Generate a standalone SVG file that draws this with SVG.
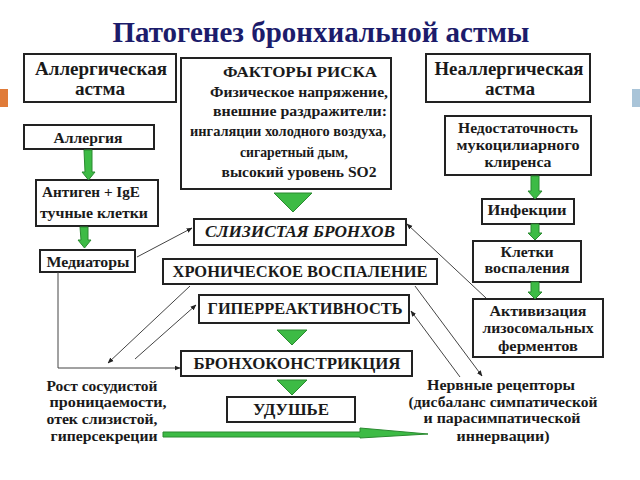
<svg xmlns="http://www.w3.org/2000/svg" width="640" height="480" viewBox="0 0 640 480">
<defs>
<style>
.box{fill:#fff;stroke:#222;stroke-width:2}
.t{font-weight:bold;font-size:15px;fill:#1a1a1a;text-anchor:middle}
.big{font-size:16px}
.hd{font-size:18px}
.it{font-style:italic}
.ln{stroke:#444;stroke-width:1;fill:none}
.g{fill:#3dbb45;stroke:#2a8a30;stroke-width:1}
</style>
<marker id="ah" viewBox="0 0 10 10" refX="9" refY="5" markerWidth="6" markerHeight="6" orient="auto">
<path d="M0,1 L10,5 L0,9 Z" fill="#222"/>
</marker>
</defs>
<rect width="640" height="480" fill="#fff"/>
<g font-family="Liberation Serif, Times New Roman, serif" lengthAdjust="spacingAndGlyphs">
<text x="321" y="42" font-weight="bold" font-size="29" fill="#1c1c6b" text-anchor="middle" textLength="417" lengthAdjust="spacingAndGlyphs">Патогенез бронхиальной астмы</text>
<rect x="0" y="89" width="8" height="18" fill="#e07b39"/>
<rect x="632" y="89" width="8" height="18" fill="#a9c4d8"/>

<g id="allerg-asthma"><rect class="box" x="24" y="54" width="152" height="48"/><text class="t hd" x="101" y="75" textLength="132" lengthAdjust="spacingAndGlyphs">Аллергическая</text><text class="t hd" x="100" y="95" textLength="50" lengthAdjust="spacingAndGlyphs">астма</text></g>
<g id="factors"><rect class="box" x="181" y="58" width="210" height="131"/>
<text class="t" x="300" y="77" textLength="154" lengthAdjust="spacingAndGlyphs">ФАКТОРЫ РИСКА</text>
<text class="t" x="299" y="97" textLength="178" lengthAdjust="spacingAndGlyphs">Физическое напряжение,</text>
<text class="t" x="300" y="116" textLength="174" lengthAdjust="spacingAndGlyphs">внешние раздражители:</text>
<text class="t" x="288" y="136" textLength="196" lengthAdjust="spacingAndGlyphs">ингаляции холодного воздуха,</text>
<text class="t" x="294" y="157" textLength="108" lengthAdjust="spacingAndGlyphs">сигаретный дым,</text>
<text class="t" x="299" y="177" textLength="155" lengthAdjust="spacingAndGlyphs">высокий уровень SO2</text></g>
<g id="nonallerg-asthma"><rect class="box" x="426" y="54" width="164" height="48"/><text class="t hd" x="509" y="75" textLength="149" lengthAdjust="spacingAndGlyphs">Неаллергическая</text><text class="t hd" x="510" y="95" textLength="50" lengthAdjust="spacingAndGlyphs">астма</text></g>

<g id="allergy"><rect class="box" x="24" y="125" width="130" height="24"/><text class="t" x="88" y="143" textLength="69" lengthAdjust="spacingAndGlyphs">Аллергия</text></g>
<g id="antigen"><rect class="box" x="36" y="180" width="122" height="46"/><text class="t" x="91" y="197" textLength="98" lengthAdjust="spacingAndGlyphs">Антиген + IgE</text><text class="t" x="94" y="218" textLength="108" lengthAdjust="spacingAndGlyphs">тучные клетки</text></g>
<g id="mediators"><rect class="box" x="40" y="250" width="95" height="22"/><text class="t" x="88" y="267" textLength="83" lengthAdjust="spacingAndGlyphs">Медиаторы</text></g>

<g id="mucociliary"><rect class="box" x="445" y="116" width="146" height="59"/><text class="t" x="518" y="133" textLength="120" lengthAdjust="spacingAndGlyphs">Недостаточность</text><text class="t" x="518" y="150" textLength="123" lengthAdjust="spacingAndGlyphs">мукоцилиарного</text><text class="t" x="518" y="167" textLength="67" lengthAdjust="spacingAndGlyphs">клиренса</text></g>
<g id="infections"><rect class="box" x="482" y="199" width="92" height="25"/><text class="t" x="527" y="215" textLength="79" lengthAdjust="spacingAndGlyphs">Инфекции</text></g>
<g id="inflam-cells"><rect class="box" x="473" y="241" width="108" height="41"/><text class="t" x="527" y="257" textLength="53" lengthAdjust="spacingAndGlyphs">Клетки</text><text class="t" x="527" y="273" textLength="85" lengthAdjust="spacingAndGlyphs">воспаления</text></g>
<g id="lysosomal"><rect class="box" x="473" y="299" width="130" height="58"/><text class="t" x="538" y="316" textLength="97" lengthAdjust="spacingAndGlyphs">Активизация</text><text class="t" x="538" y="333" textLength="111" lengthAdjust="spacingAndGlyphs">лизосомальных</text><text class="t" x="538" y="351" textLength="80" lengthAdjust="spacingAndGlyphs">ферментов</text></g>

<g id="mucosa"><rect class="box" x="194" y="219" width="212" height="26"/><text class="t big it" x="300" y="237" textLength="190" lengthAdjust="spacingAndGlyphs">СЛИЗИСТАЯ БРОНХОВ</text></g>
<g id="chronic"><rect class="box" x="163" y="259" width="274" height="25"/><text class="t big" x="300" y="277" textLength="255" lengthAdjust="spacingAndGlyphs">ХРОНИЧЕСКОЕ ВОСПАЛЕНИЕ</text></g>
<g id="hyper"><rect class="box" x="199" y="295" width="210" height="28"/><text class="t big" x="305" y="314" textLength="195" lengthAdjust="spacingAndGlyphs">ГИПЕРРЕАКТИВНОСТЬ</text></g>
<g id="broncho"><rect class="box" x="181" y="351" width="231" height="25"/><text class="t big" x="297" y="369" textLength="207" lengthAdjust="spacingAndGlyphs">БРОНХОКОНСТРИКЦИЯ</text></g>
<g id="choke"><rect class="box" x="227" y="397" width="128" height="25"/><text class="t big" x="291" y="415" textLength="76" lengthAdjust="spacingAndGlyphs">УДУШЬЕ</text></g>

<g id="vascular"><text class="t" x="102" y="391" textLength="111" lengthAdjust="spacingAndGlyphs">Рост сосудистой</text><text class="t" x="108" y="407" textLength="117" lengthAdjust="spacingAndGlyphs">проницаемости,</text><text class="t" x="102" y="424" textLength="111" lengthAdjust="spacingAndGlyphs">отек слизистой,</text><text class="t" x="104" y="441" textLength="107" lengthAdjust="spacingAndGlyphs">гиперсекреции</text></g>
<g id="nerve"><text class="t" x="501" y="390" textLength="148" lengthAdjust="spacingAndGlyphs">Нервные рецепторы</text><text class="t" x="503" y="407" textLength="189" lengthAdjust="spacingAndGlyphs">(дисбаланс симпатической</text><text class="t" x="502" y="423" textLength="157" lengthAdjust="spacingAndGlyphs">и парасимпатической</text><text class="t" x="503" y="441" textLength="93" lengthAdjust="spacingAndGlyphs">иннервации)</text></g>
</g>
<g id="connectors">
<path class="ln" d="M137,257 L192,228" marker-end="url(#ah)"/>
<path class="ln" d="M58,272 L58,368 L180,368" marker-end="url(#ah)"/>
<path class="ln" d="M190,286 L108,363" marker-end="url(#ah)"/>
<path class="ln" d="M135,359 L196,305" marker-end="url(#ah)"/>
<path class="ln" d="M486,298 L407,224" marker-end="url(#ah)"/>
<path class="ln" d="M415,286 L482,376" marker-end="url(#ah)"/>
<path class="ln" d="M460,377 L411,311" marker-end="url(#ah)"/>
<path class="g" d="M84,150 H92 V172 H95 L88.5,180 L82,172 H85 Z"/>
<path class="g" d="M80,227 H88 V240 H91 L84.5,248 L78,240 H81 Z"/>
<path class="g" d="M531,176 H539 V191 H542 L535,199 L528,191 H531 Z"/>
<path class="g" d="M531,224 H539 V233 H542 L535,240 L528,233 H531 Z"/>
<path class="g" d="M531,282 H539 V292 H542 L535,299 L528,292 H531 Z"/>
<path class="g" d="M274,193 H312 L293,212 Z"/>
<path class="g" d="M277,330 H307 L292,345 Z"/>
<path class="g" d="M277,380 H307 L292,395 Z"/>
<path class="g" d="M163,432 H360 V428 L428,434 L360,438 V437 H163 Z"/>
</g>
</svg>
